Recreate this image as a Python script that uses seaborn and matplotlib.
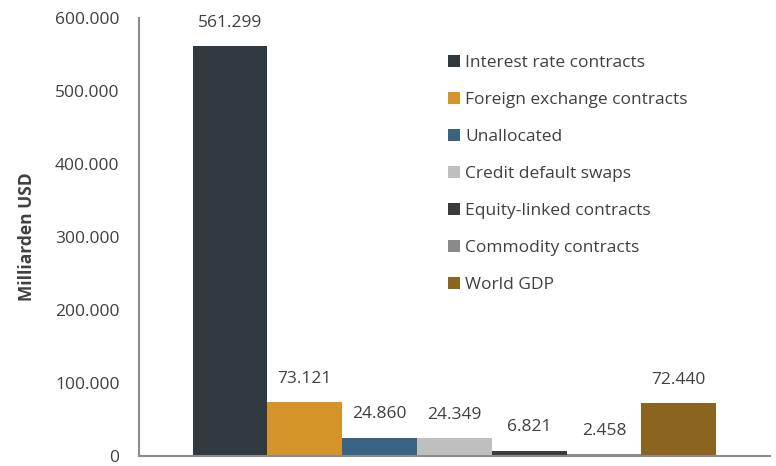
import matplotlib
matplotlib.use("Agg")
import matplotlib.pyplot as plt
import seaborn as sns
import pandas as pd
from matplotlib.ticker import FuncFormatter

series = ["Interest rate contracts", "Foreign exchange contracts", "Unallocated",
          "Credit default swaps", "Equity-linked contracts", "Commodity contracts",
          "World GDP"]
values = [561299, 73121, 24860, 24349, 6821, 2458, 72440]
colors = ["#30393f", "#d4942a", "#3a6282", "#bfbfbf", "#3b3b3b", "#8a8a8a", "#8b6520"]

df = pd.DataFrame({"cat": [""] * len(series), "series": series, "value": values})

sns.set_style("white")
plt.rcParams["font.family"] = ["Open Sans", "DejaVu Sans"]
txt = "#404040"
fs = 12.5

fig, ax = plt.subplots(figsize=(7.76, 4.66), dpi=100)
fig.subplots_adjust(left=0.179, right=0.992, top=0.962, bottom=0.022)

sns.barplot(data=df, x="cat", y="value", hue="series", palette=colors,
            width=0.83, saturation=1, linewidth=0, ax=ax, legend=True)

fmt = lambda v: f"{int(v):,}".replace(",", ".")
for cont in ax.containers:
    ax.bar_label(cont, labels=[fmt(b.get_height()) for b in cont], padding=11,
                 fontsize=fs, color=txt)

ax.set_ylim(0, 600000)
ax.set_xlim(-0.5, 0.5)
ax.set_yticks(range(0, 600001, 100000))
ax.yaxis.set_major_formatter(FuncFormatter(lambda v, p: fmt(v)))
ax.tick_params(axis="y", length=0, pad=14, labelsize=fs, labelcolor=txt)
ax.set_xticks([])
ax.set_xlabel("")
ax.set_ylabel("Milliarden USD", fontsize=fs, fontweight="bold", color=txt, labelpad=14)
for s in ["top", "right"]:
    ax.spines[s].set_visible(False)
for s in ["left", "bottom"]:
    ax.spines[s].set_color("#8c8c8c")
    ax.spines[s].set_linewidth(1.5)

ax.legend(frameon=False, fontsize=fs, loc="upper left", bbox_to_anchor=(0.465, 0.95),
          handlelength=0.7, handleheight=0.7, handletextpad=0.3, labelspacing=1.2,
          labelcolor=txt)

fig.savefig("out.png", dpi=100)
